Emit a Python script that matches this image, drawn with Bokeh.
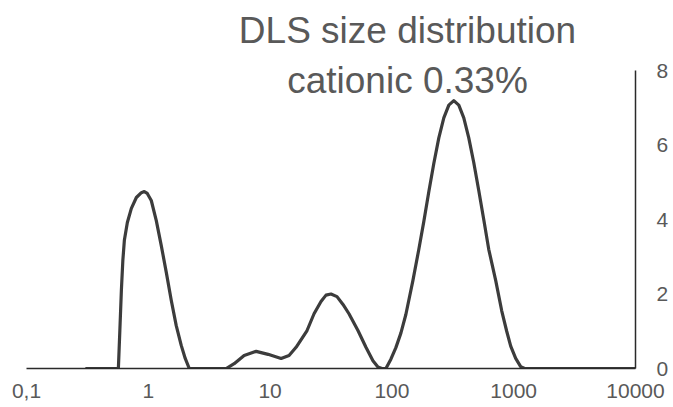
from bokeh.plotting import figure
from bokeh.models import FixedTicker, CustomJSTickFormatter, Label
from bokeh.embed import file_html
from bokeh.resources import INLINE

# Data (particle size in nm, intensity %)
size_nm = [0.31, 0.41, 0.568, 0.584, 0.601, 0.618, 0.636, 0.673, 0.726, 0.798,
           0.877, 0.927, 0.981, 1.058, 1.163, 1.278, 1.405, 1.543, 1.696, 1.864,
           2.01, 2.17, 3.0, 4.36, 5.07, 6.12, 7.68, 9.63, 12.31, 14.31,
           16.34, 20.11, 22.95, 26.18, 28.77, 31.62, 35.42, 39.67, 44.41, 52.64,
           61.22, 69.88, 76.8, 82.8, 89.3, 98.1, 107.8, 118.5, 130.2, 148.7,
           166.4, 182.9, 201.1, 221.0, 242.8, 266.8, 293.3, 322.3, 354.2, 389.2,
           427.7, 469.9, 516.6, 567.6, 623.8, 712.0, 797.3, 876.1, 944.9, 1038.5,
           1141, 1231, 2427, 5164, 10000]
intensity = [0, 0, 0, 1.02, 2.09, 2.90, 3.44, 3.92, 4.30, 4.59,
             4.72, 4.75, 4.70, 4.51, 3.97, 3.30, 2.58, 1.83, 1.15, 0.62,
             0.27, 0, 0, 0, 0.13, 0.35, 0.46, 0.38, 0.27, 0.35,
             0.57, 1.02, 1.47, 1.80, 1.97, 2.00, 1.93, 1.72, 1.47, 1.02,
             0.57, 0.21, 0.04, 0, 0, 0.25, 0.56, 0.95, 1.45, 2.36,
             3.2, 3.95, 4.75, 5.51, 6.19, 6.73, 7.07, 7.19, 7.07, 6.73,
             6.19, 5.53, 4.78, 4.0, 3.2, 2.36, 1.55, 1.0, 0.6, 0.27,
             0.05, 0, 0, 0, 0]

x_ticks = [0.1, 1, 10, 100, 1000, 10000]
y_ticks = [0, 2, 4, 6, 8]
y_max = 8
title_lines = ["DLS size distribution", "cationic 0.33%"]

FONT = "Liberation Sans"
GREY = "#595959"

# frame spans the full height above the x axis so the title can sit in it;
# the visible value axis is limited to 0..8 with axis bounds
frame_h = 368
axis_h = 298
p = figure(width=673, height=407, x_axis_type="log", x_range=(0.1, 10000),
           y_range=(0, y_max * frame_h / axis_h), y_axis_location="right",
           output_backend="svg", toolbar_location=None,
           min_border_left=26, min_border_right=38,
           min_border_top=0, min_border_bottom=39)
p.outline_line_color = None
p.xgrid.visible = False
p.ygrid.visible = False

p.line(size_nm, intensity, line_color="#3c3c3c", line_width=3.2,
       line_join="round", line_cap="round")

xa = p.xaxis[0]
xa.ticker = FixedTicker(ticks=x_ticks, minor_ticks=[])
xa.formatter = CustomJSTickFormatter(
    code="return tick < 1 ? '0,1' : String(Math.round(tick));")
ya = p.yaxis[0]
ya.ticker = FixedTicker(ticks=y_ticks, minor_ticks=[])
ya.bounds = (0, y_max)

for ax in (xa, ya):
    ax.major_tick_out = 0
    ax.major_tick_in = 0
    ax.minor_tick_out = 0
    ax.minor_tick_in = 0
    ax.major_tick_line_color = None
    ax.minor_tick_line_color = None
    ax.axis_line_color = "#2a2a2a"
    ax.axis_line_width = 1.5
    ax.major_label_text_font = FONT
    ax.major_label_text_font_size = "21px"
    ax.major_label_text_color = GREY
xa.major_label_standoff = 15
ya.major_label_standoff = 21

for i, t in enumerate(title_lines):
    p.add_layout(Label(x=381, y=338 - 50 * i, x_units="screen", y_units="screen",
                       text=t, text_align="center", text_baseline="middle",
                       text_font=FONT, text_font_size="37px", text_color=GREY))

open("out.html", "w").write(file_html(p, INLINE))
